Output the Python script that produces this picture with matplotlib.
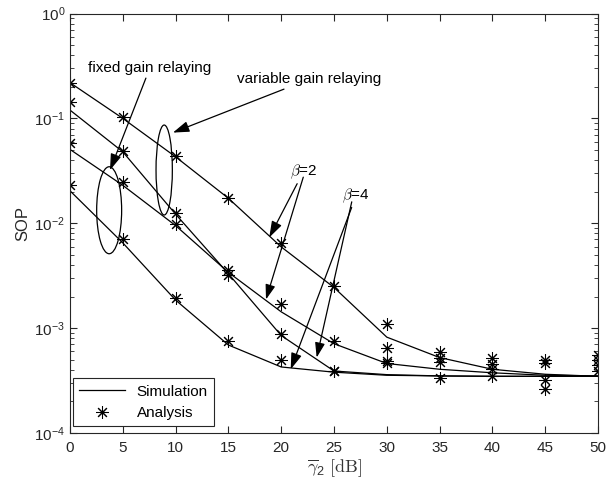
import matplotlib
matplotlib.use("Agg")
import matplotlib.pyplot as plt
from matplotlib.patches import Ellipse
from matplotlib.ticker import LogLocator, MultipleLocator

plt.rcParams['font.family'] = ['Liberation Sans', 'DejaVu Sans']
plt.rcParams['mathtext.default'] = 'regular'
plt.rcParams['axes.unicode_minus'] = False

snr_db = [0, 5, 10, 15, 20, 25, 30, 35, 40, 45, 50]

sim_c1 = [0.219, 0.100, 0.043, 0.0173, 0.00595, 0.00244, 8.2e-4, 5.24e-4, 4.05e-4, 3.63e-4, 3.47e-4]
sim_c2 = [0.12, 0.048, 0.0122, 0.0033, 8.5e-4, 3.9e-4, 3.6e-4, 3.5e-4, 3.47e-4, 3.47e-4, 3.47e-4]
sim_c3 = [0.0506, 0.023, 0.0095, 0.0034, 0.00143, 7.1e-4, 4.6e-4, 4.05e-4, 3.75e-4, 3.55e-4, 3.5e-4]
sim_c4 = [0.0204, 0.0065, 0.00185, 6.9e-4, 4.26e-4, 3.8e-4, 3.55e-4, 3.5e-4, 3.47e-4, 3.47e-4, 3.47e-4]

ana_c1 = [0.219, 0.102, 0.0437, 0.0175, 0.0065, 0.00251, 1.1e-3, 5.93e-4, 5.24e-4, 5.0e-4, 5.5e-4]
ana_c2 = [0.144, 0.049, 0.0125, 0.00319, 8.7e-4, 3.9e-4, 4.65e-4, 4.75e-4, 4.11e-4, 3.18e-4, 4.43e-4]
ana_c3 = [0.0577, 0.0245, 0.0098, 0.00357, 0.00169, 7.6e-4, 6.5e-4, 5.24e-4, 4.59e-4, 4.6e-4, 5.0e-4]
ana_c4 = [0.0231, 0.0070, 0.00194, 7.55e-4, 5.0e-4, 3.9e-4, 4.9e-4, 3.38e-4, 3.47e-4, 2.6e-4, 3.9e-4]

sim_series = [sim_c1, sim_c2, sim_c3, sim_c4]
ana_series = [ana_c1, ana_c2, ana_c3, ana_c4]

fig = plt.figure(figsize=(6.08, 4.86), dpi=100)
ax = fig.add_axes([0.1151, 0.1091, 0.8685, 0.8631])

star = (8, 2, 0)
sim_handle = None
ana_handle = None
for s in sim_series:
    h, = ax.plot(snr_db, s, color='black', lw=0.9)
    if sim_handle is None:
        sim_handle = h
for a in ana_series:
    h, = ax.plot(snr_db, a, linestyle='none', marker=star, markersize=9,
                 markeredgewidth=0.75, color='black')
    if ana_handle is None:
        ana_handle = h

ax.set_yscale('log')
ax.set_xlim(0, 50)
ax.set_ylim(1e-4, 1)
ax.xaxis.set_major_locator(MultipleLocator(5))
ax.yaxis.set_major_locator(LogLocator(base=10, numticks=10))
ax.yaxis.set_minor_locator(LogLocator(base=10, subs=range(2, 10), numticks=20))
ax.tick_params(which='both', direction='in', top=True, right=True, labelsize=11,
               colors='#262626')
ax.tick_params(axis='x', pad=6)
ax.tick_params(which='major', length=5, width=0.8)
ax.tick_params(which='minor', length=3, width=0.6)
ax.tick_params(axis='x', which='minor', top=False, bottom=False)
for sp in ax.spines.values():
    sp.set_linewidth(0.8)
    sp.set_color('#262626')

ax.set_ylabel('SOP', fontsize=12, color='#262626')
ax.yaxis.set_label_coords(-0.075, 0.5)
ax.set_xlabel(r'$\overline{\mathit{\gamma}}_2\ \mathrm{[dB]}$', fontsize=13,
              math_fontfamily='cm', color='#333333', labelpad=2)

leg = ax.legend([sim_handle, ana_handle], ['Simulation', 'Analysis'],
                loc='lower left', bbox_to_anchor=(0.005, 0.016),
                borderaxespad=0, fancybox=False, framealpha=1,
                edgecolor='#262626', fontsize=11, handlelength=3.0)
leg.get_frame().set_linewidth(0.8)

arrow = dict(arrowstyle='-|>,head_length=0.9,head_width=0.3', color='black',
             lw=0.9, shrinkA=0, shrinkB=0)

ax.annotate('fixed gain relaying', xy=(3.79, 0.0321), xytext=(7.55, 0.30),
            fontsize=11, ha='center', va='center', arrowprops=arrow)
ax.annotate('variable gain relaying', xy=(9.75, 0.0732), xytext=(22.63, 0.2356),
            fontsize=11, ha='center', va='center', arrowprops=arrow)

ax.annotate(r'$\mathit{\beta}$=2', xy=(18.87, 0.00732), xytext=(22.1, 0.031),
            fontsize=11, ha='center', va='center', math_fontfamily='cm',
            arrowprops=arrow)
ax.annotate('', xy=(18.56, 0.001875), xytext=(22.09, 0.0275), arrowprops=arrow)
ax.annotate(r'$\mathit{\beta}$=4', xy=(20.90, 4.05e-4), xytext=(27.1, 0.0184),
            fontsize=11, ha='center', va='center', math_fontfamily='cm',
            arrowprops=arrow)
ax.annotate('', xy=(23.36, 5.24e-4), xytext=(26.68, 0.016), arrowprops=arrow)

ax.add_patch(Ellipse((0.0742, 0.531), 0.0473, 0.2074, transform=ax.transAxes,
                     fill=False, edgecolor='black', lw=0.9))
ax.add_patch(Ellipse((0.1784, 0.6269), 0.0309, 0.2145, transform=ax.transAxes,
                     fill=False, edgecolor='black', lw=0.9))

fig.savefig('out.png', dpi=100)
